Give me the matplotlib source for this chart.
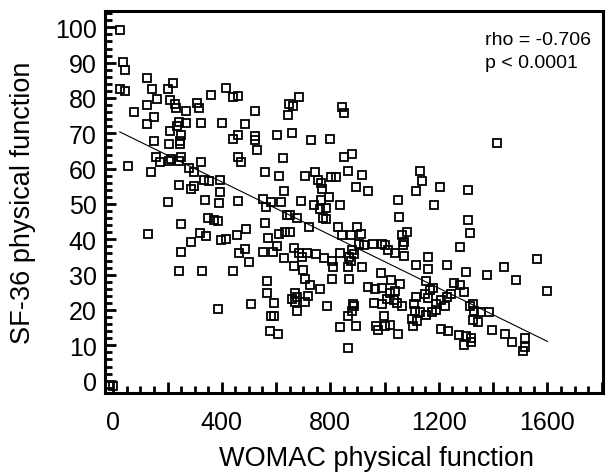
import matplotlib
matplotlib.use("Agg")
import matplotlib.pyplot as plt
from matplotlib.ticker import MultipleLocator

plt.rcParams["font.family"] = ["Liberation Sans", "DejaVu Sans"]

# WOMAC physical function (x) vs SF-36 physical function (y)
womac = [0, 26, 37, 43, 26, 43, 53, 76, 126, 143, 126, 163, 126, 149, 149, 159, 171, 140, 129,
         203, 219, 210, 226, 233, 211, 204, 243, 236, 250, 247, 247, 207, 214, 243, 250, 269, 267,
         310, 317, 323, 281, 296, 323, 243, 200, 287, 297, 333, 353, 394, 394, 339, 391, 460, 250,
         349, 370, 386, 320, 341, 286, 250, 396, 414, 456, 491, 464, 484, 500, 243, 326, 440, 386,
         414, 361, 443, 461, 400, 486, 441, 460, 523, 521, 524, 531, 461, 469, 560, 611, 627, 604,
         657, 643, 647, 664, 683, 727, 800, 844, 851, 706, 743, 754, 764, 769, 801, 821, 851, 880,
         864, 917, 896, 939, 630, 553, 564, 581, 617, 691, 740, 767, 794, 763, 783, 773, 784, 837,
         639, 653, 676, 560, 721, 829, 844, 876, 900, 914, 907, 924, 879, 887, 570, 610, 633, 650,
         603, 553, 587, 667, 683, 697, 713, 749, 776, 807, 811, 837, 867, 876, 866, 917, 630, 667,
         699, 706, 724, 761, 806, 867, 566, 566, 671, 677, 719, 657, 671, 706, 677, 786, 507, 593,
         581, 594, 577, 609, 836, 866, 866, 880, 883, 889, 896, 937, 964, 989, 986, 960, 989, 1009,
         1021, 1039, 1056, 1023, 1033, 1046, 1064, 967, 976, 999, 1001, 1021, 1050, 959, 991, 1000,
         1014, 1037, 1053, 1051, 1064, 1071, 1066, 1081, 1071, 1116, 1131, 1137, 1203, 1181, 1307,
         1307, 1313, 1276, 1114, 1159, 1159, 1153, 1231, 1301, 1254, 1276, 1294, 1166, 1179, 1149,
         1114, 1161, 1207, 1229, 1243, 1110, 1111, 1131, 1154, 1176, 1189, 1191, 1224, 1100, 1121,
         1106, 1206, 1234, 1274, 1294, 1300, 1317, 1319, 1324, 1329, 1314, 1324, 1346, 1356, 1386,
         1377, 1396, 1416, 1441, 1486, 1561, 1600, 1444, 1469, 1517, 1517, 1511]
sf36 = [-1.5, 99.2, 90.2, 87.8, 82.4, 82.1, 60.7, 76.1, 85.7, 82.5, 78.0, 79.7, 72.7, 74.5, 67.9,
        63.3, 61.8, 59.1, 41.6, 82.4, 84.2, 79.5, 78.3, 77.2, 70.6, 67.1, 73.2, 72.0, 69.4, 67.9,
        67.1, 62.1, 62.6, 62.1, 63.2, 76.2, 72.9, 78.6, 77.2, 73.0, 60.2, 59.1, 61.8, 55.5, 50.6,
        54.2, 55.2, 56.9, 56.4, 56.8, 53.3, 51.1, 50.3, 50.7, 44.2, 46.0, 45.6, 45.3, 41.9, 40.9,
        39.3, 36.4, 39.7, 40.2, 41.3, 43.0, 36.2, 37.2, 33.7, 30.9, 30.9, 30.9, 20.2, 82.8, 80.9,
        80.3, 80.5, 72.8, 72.7, 68.5, 69.4, 76.3, 69.3, 68.2, 65.3, 63.2, 61.9, 59.1, 58.0, 63.0,
        69.6, 70.0, 75.3, 78.3, 77.8, 80.3, 68.0, 68.4, 77.5, 75.8, 58.0, 59.1, 56.9, 56.0, 54.2,
        57.6, 57.5, 63.2, 64.2, 59.4, 58.2, 54.8, 53.8, 53.8, 51.5, 49.2, 50.6, 50.6, 50.8, 49.8,
        51.0, 51.9, 48.5, 48.9, 46.0, 45.8, 49.8, 46.8, 47.0, 46.0, 44.7, 43.6, 43.4, 41.1, 41.1,
        43.4, 41.6, 38.7, 38.5, 37.1, 35.8, 40.4, 41.6, 42.1, 42.1, 38.0, 36.4, 36.4, 37.5, 36.1,
        35.1, 36.0, 35.9, 34.7, 33.8, 32.3, 36.0, 35.1, 33.9, 32.2, 32.2, 34.7, 32.5, 31.4, 28.8,
        27.2, 25.9, 28.8, 28.7, 28.3, 24.9, 24.7, 23.6, 24.0, 23.1, 22.3, 22.3, 19.8, 21.0, 21.8,
        22.1, 18.2, 18.2, 14.0, 13.3, 15.2, 9.3, 18.2, 19.6, 21.7, 21.0, 15.4, 26.6, 25.8, 26.1,
        30.5, 22.0, 21.7, 23.2, 24.9, 25.3, 27.4, 28.5, 22.8, 22.1, 21.0, 15.4, 14.4, 18.2, 15.6,
        15.8, 13.3, 38.8, 38.7, 38.3, 37.1, 36.0, 46.3, 51.1, 41.1, 39.2, 38.5, 42.1, 35.2, 53.6,
        59.2, 56.6, 54.8, 49.8, 53.9, 45.5, 41.9, 37.9, 32.7, 35.1, 31.6, 28.1, 32.6, 30.8, 27.7,
        27.0, 25.1, 25.7, 26.2, 24.5, 23.6, 23.4, 22.8, 23.6, 24.5, 21.6, 19.6, 19.3, 18.5, 19.3,
        20.1, 21.7, 21.0, 17.5, 16.9, 15.4, 14.6, 14.0, 13.0, 10.2, 12.7, 10.8, 12.2, 21.8, 19.7,
        21.0, 17.1, 16.6, 19.5, 19.5, 30.0, 14.4, 67.3, 32.3, 28.4, 34.3, 25.5, 13.3, 10.8, 12.1,
        9.4, 8.3]

# regression line end points
fit_x = [24, 1600]
fit_y = [70.4, 11.1]

rho_text = "rho = -0.706"
p_text = "p < 0.0001"

fig = plt.figure(figsize=(6.11, 4.77), dpi=100)
ax = fig.add_axes([0.172, 0.174, 0.815, 0.80])

ax.plot(womac, sf36, linestyle="none", marker="s", markersize=5.4,
        markerfacecolor="none", markeredgecolor="black", markeredgewidth=1.3, clip_on=False)
ax.plot(fit_x, fit_y, color="black", linewidth=0.8)

ax.set_xlim(-30, 1805)
ax.set_ylim(-3.5, 104.5)

ax.xaxis.set_minor_locator(MultipleLocator(50))
ax.yaxis.set_minor_locator(MultipleLocator(2))
xt = [0, 400, 800, 1200, 1600]
ax.set_xticks(range(0, 1801, 200))
ax.set_xticklabels([str(v) if v in xt else "" for v in range(0, 1801, 200)])
ax.set_yticks(range(0, 101, 10))

ax.tick_params(which="both", direction="in", width=2, labelsize=18, top=False, right=False)
ax.tick_params(which="major", length=8)
ax.tick_params(which="minor", length=5)
ax.tick_params(axis="x", which="major", pad=12)
ax.tick_params(axis="y", which="major", pad=6)

for s in ax.spines.values():
    s.set_linewidth(2.2)

ax.set_xlabel("WOMAC physical function", fontsize=19.5, va="top")
ax.xaxis.set_label_coords(0.546, -0.137)
ax.set_ylabel("SF-36 physical function", fontsize=19.5)
ax.yaxis.set_label_coords(-0.139, 0.5)

ax.text(0.763, 0.927, rho_text, transform=ax.transAxes, fontsize=14, va="center")
ax.text(0.763, 0.866, p_text, transform=ax.transAxes, fontsize=14, va="center")

fig.savefig("out.png", dpi=100)
